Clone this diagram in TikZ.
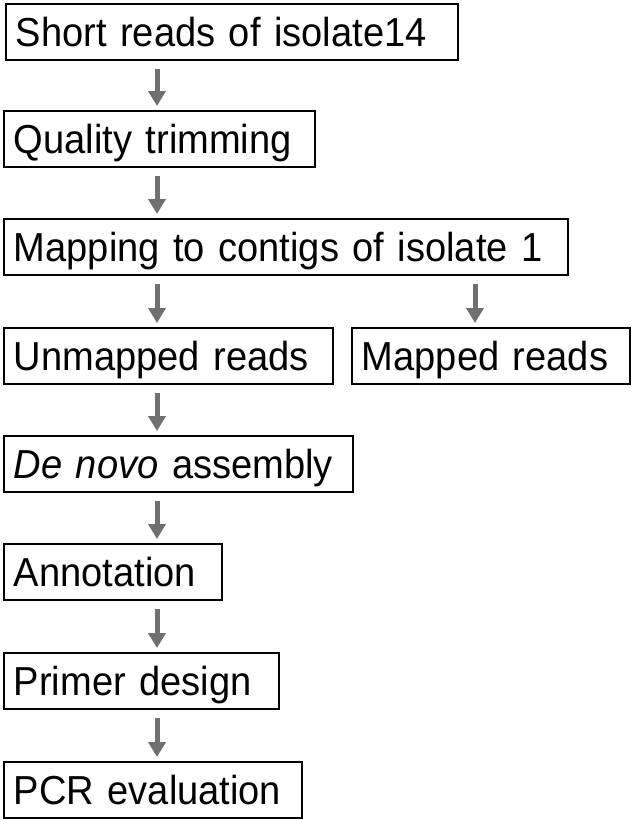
\documentclass[tikz,border=0pt]{standalone}
\usepackage{fontspec}
\setmainfont{Liberation Sans}[FakeStretch=0.94]
\usetikzlibrary{arrows.meta}
\definecolor{flowgray}{HTML}{707070}
\tikzset{
    stage/.style={draw=black, line width=1.6pt, anchor=north west, inner xsep=10pt, inner ysep=0pt,
        minimum height=56pt, text height=30pt, text depth=0pt, align=left, font=\fontsize{40.5}{42}\selectfont},
    flow/.style={draw=flowgray, line width=5pt, -{Triangle[width=17pt,length=15pt]}, shorten <=8pt, shorten >=4pt}
}
\begin{document}
\begin{tikzpicture}[x=1pt,y=1pt]
    \useasboundingbox (0,0) rectangle (633,-820);
    \node[stage, text width=432pt] (short) at (5,-3) {Short reads of isolate14};
    \node[stage, text width=291pt] (trim) at (3,-110) {Quality trimming};
    \node[stage, text width=544pt] (map) at (3,-218) {Mapping to contigs of isolate 1};
    \node[stage, text width=309pt] (unmapped) at (3,-327) {Unmapped reads};
    \node[stage, text width=258pt] (mapped) at (351,-327) {Mapped reads};
    \node[stage, text width=329pt] (denovo) at (3,-435) {\textit{De novo} assembly};
    \node[stage, text width=198pt] (annot) at (3,-543) {Annotation};
    \node[stage, text width=255pt] (primer) at (3,-652) {Primer design};
    \node[stage, text width=278pt] (pcr) at (3,-761) {PCR evaluation};
    \coordinate (colA) at (157,0);
    \coordinate (colB) at (475,0);
    \draw[flow] (short.south -| colA) -- (trim.north -| colA);
    \draw[flow] (trim.south -| colA) -- (map.north -| colA);
    \draw[flow] (map.south -| colA) -- (unmapped.north -| colA);
    \draw[flow] (map.south -| colB) -- (mapped.north -| colB);
    \draw[flow] (unmapped.south -| colA) -- (denovo.north -| colA);
    \draw[flow] (denovo.south -| colA) -- (annot.north -| colA);
    \draw[flow] (annot.south -| colA) -- (primer.north -| colA);
    \draw[flow] (primer.south -| colA) -- (pcr.north -| colA);
\end{tikzpicture}
\end{document}
